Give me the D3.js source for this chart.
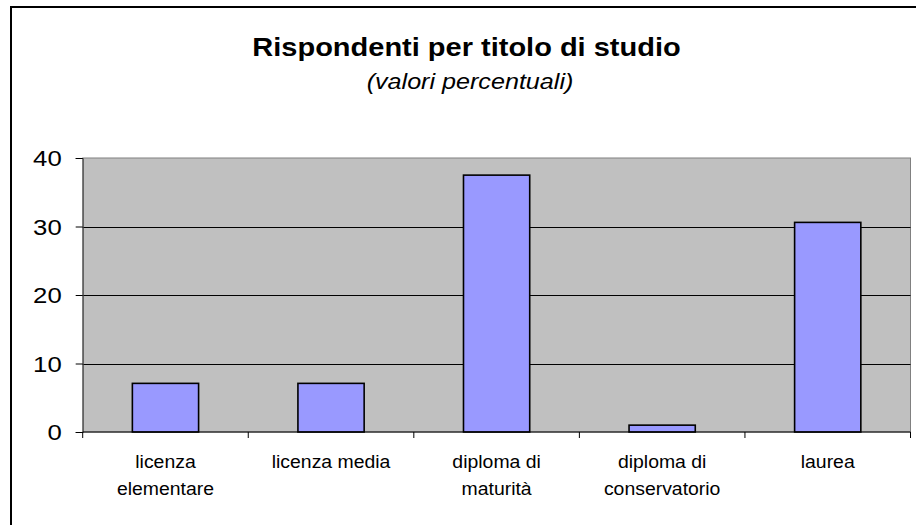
<!DOCTYPE html>
<html>
<head>
<meta charset="utf-8">
<script src="https://cdn.jsdelivr.net/npm/d3@7"></script>
<style>
  html, body { margin: 0; padding: 0; background: #ffffff; }
  svg { display: block; }
  text { font-family: "Liberation Sans", Arial, Helvetica, sans-serif; fill: #000; }
</style>
</head>
<body>
<svg id="chart" width="916" height="525"></svg>
<script>
// Titolo di studio dei rispondenti (valori percentuali)
const categories = [
  ["licenza", "elementare"],
  ["licenza media"],
  ["diploma di", "maturità"],
  ["diploma di", "conservatorio"],
  ["laurea"]
];
const values = [7.1, 7.1, 37.5, 1.0, 30.6];
const yTicks = [0, 10, 20, 30, 40];
const titleText = "Rispondenti per titolo di studio";
const subtitleText = "(valori percentuali)";

const svg = d3.select("#chart");
const plot = { left: 82.7, right: 910.5, top: 158, bottom: 432 };
const keys = categories.map(c => c.join(" "));

const x = d3.scaleBand()
  .domain(keys)
  .range([plot.left, plot.right])
  .paddingInner(0.6)
  .paddingOuter(0.3);

const y = d3.scaleLinear()
  .domain([0, 40])
  .range([plot.bottom, plot.top]);

// Cornice esterna
svg.append("rect")
  .attr("x", 0).attr("y", 0).attr("width", 916).attr("height", 525)
  .attr("fill", "#ffffff");
svg.append("rect")
  .attr("x", 11).attr("y", 7).attr("width", 1000).attr("height", 1000)
  .attr("fill", "none").attr("stroke", "#000").attr("stroke-width", 2);

// Titolo e sottotitolo (leggermente allargati in orizzontale)
svg.append("text")
  .attr("transform", "translate(466.5,55.7) scale(1.16,1)")
  .attr("text-anchor", "middle")
  .attr("font-size", 25)
  .attr("font-weight", "bold")
  .text(titleText);

svg.append("text")
  .attr("transform", "translate(470,89) scale(1.17,1)")
  .attr("text-anchor", "middle")
  .attr("font-size", 21.5)
  .attr("font-style", "italic")
  .text(subtitleText);

// Area del grafico
svg.append("rect")
  .attr("x", plot.left).attr("y", plot.top)
  .attr("width", plot.right - plot.left).attr("height", plot.bottom - plot.top)
  .attr("fill", "#c0c0c0")
  .attr("stroke", "#808080").attr("stroke-width", 1);

// Griglia orizzontale
svg.append("g")
  .selectAll("line")
  .data(yTicks.filter(t => t > 0 && t < 40))
  .join("line")
  .attr("x1", plot.left).attr("x2", plot.right)
  .attr("y1", d => Math.round(y(d)) + 0.5).attr("y2", d => Math.round(y(d)) + 0.5)
  .attr("stroke", "#000").attr("stroke-width", 1);

// Barre
svg.append("g")
  .selectAll("rect")
  .data(values)
  .join("rect")
  .attr("x", (d, i) => x(keys[i]))
  .attr("y", d => y(d))
  .attr("width", x.bandwidth())
  .attr("height", d => y(0) - y(d))
  .attr("fill", "#9999ff")
  .attr("stroke", "#000")
  .attr("stroke-width", 1.6);

// Asse Y
const yAxis = d3.axisLeft(y).tickValues(yTicks).tickSize(7).tickPadding(14);
const gy = svg.append("g")
  .attr("transform", `translate(${plot.left},0)`)
  .call(yAxis);
gy.select(".domain").attr("stroke", "#404040");
gy.selectAll(".tick line").attr("stroke", "#000");
gy.selectAll(".tick text")
  .attr("font-size", 22)
  .attr("font-family", "Liberation Sans, Arial, sans-serif")
  .attr("fill", "#000")
  .attr("dy", "0.36em")
  .attr("transform", function() {
    const xx = +d3.select(this).attr("x");
    return `translate(${xx},0) scale(1.17,1) translate(${-xx},0)`;
  });

// Asse X con tacche ai confini delle categorie
const step = x.step();
const bounds = keys.map(k => x(k) - step * 0.3).concat([plot.right]);
svg.append("line")
  .attr("x1", plot.left).attr("x2", plot.right)
  .attr("y1", plot.bottom).attr("y2", plot.bottom)
  .attr("stroke", "#000").attr("stroke-width", 1.2);
svg.append("g")
  .selectAll("line")
  .data(bounds)
  .join("line")
  .attr("x1", d => d).attr("x2", d => d)
  .attr("y1", plot.bottom).attr("y2", plot.bottom + 6)
  .attr("stroke", "#000");

// Etichette delle categorie
const labels = svg.append("g")
  .selectAll("text")
  .data(categories)
  .join("text")
  .attr("text-anchor", "middle")
  .attr("font-size", 18.5)
  .attr("transform", (d, i) => `translate(${x(keys[i]) + x.bandwidth() / 2},468) scale(1.05,1)`);
labels.selectAll("tspan")
  .data(d => d)
  .join("tspan")
  .attr("x", 0)
  .attr("y", (d, j) => j * 27)
  .text(d => d);
</script>
</body>
</html>
